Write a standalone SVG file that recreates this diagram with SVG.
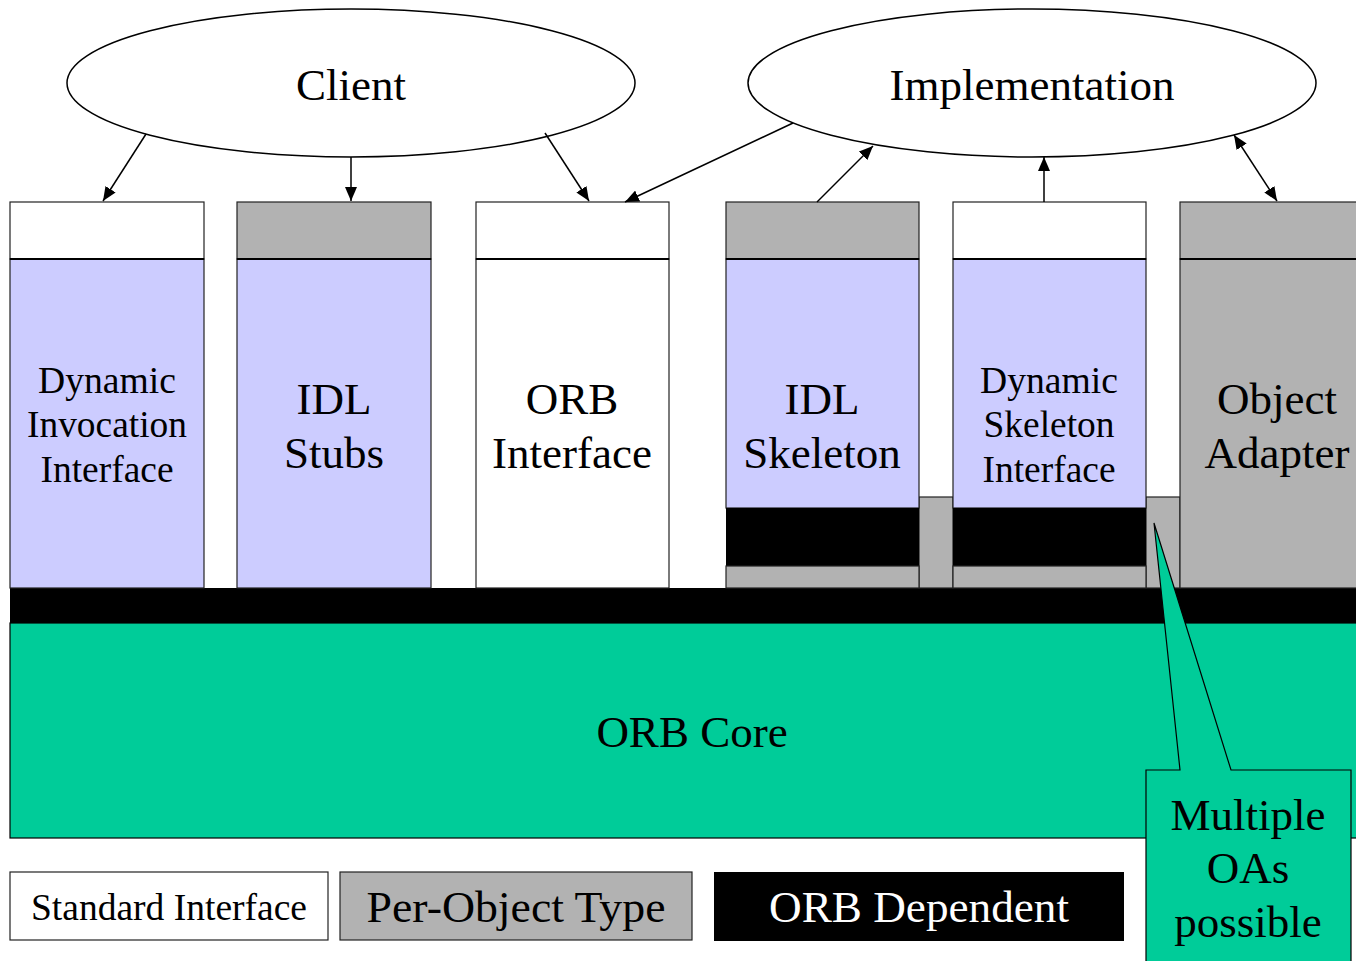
<svg xmlns="http://www.w3.org/2000/svg" width="1356" height="961" viewBox="0 0 1356 961">
  <style>
    text { font-family: "Liberation Serif", "Times New Roman", serif; text-anchor: middle; fill: #000; }
    .big { font-size: 45px; }
    .mid { font-size: 37px; }
    .box { stroke: #222; stroke-width: 1.2; }
    .white { fill: #fff; }
    .gray { fill: #b2b2b2; }
    .lav { fill: #ccccff; }
    .blk { fill: #000; }
    .sep { stroke: #000; stroke-width: 2; }
    .conn { stroke: #000; stroke-width: 1.5; fill: none; }
    .oval { fill: #fff; stroke: #000; stroke-width: 1.5; }
  </style>
  <defs>
    <marker id="arrow" viewBox="0 0 14 12" refX="14" refY="6" markerWidth="14" markerHeight="12" markerUnits="userSpaceOnUse" orient="auto-start-reverse">
      <path d="M0,0 L14,6 L0,12 z" fill="#000"/>
    </marker>
  </defs>

  <rect width="1356" height="961" fill="#fff"/>

  <!-- ORB core and the ORB-dependent bar under the columns -->
  <g id="orb-core">
    <rect x="10" y="623" width="1360" height="215" fill="#00cc99" stroke="#000" stroke-width="1.2"/>
    <text class="big" x="692" y="747">ORB Core</text>
  </g>
  <g id="orb-bar">
    <rect x="10" y="588" width="1360" height="35" class="blk"/>
  </g>

  <!-- gray fillers between the skeleton columns and the adapter -->
  <g id="oa-fillers">
    <rect x="919" y="497" width="34" height="91" class="gray box"/>
    <rect x="1146" y="497" width="34" height="91" class="gray box"/>
  </g>

  <g id="dii">
    <rect x="10" y="202" width="194" height="57" class="white box"/>
    <rect x="10" y="259" width="194" height="329" class="lav box"/>
    <line x1="10" y1="259" x2="204" y2="259" class="sep"/>
    <text class="mid" x="107" y="393" textLength="138" lengthAdjust="spacingAndGlyphs">Dynamic</text>
    <text class="mid" x="107" y="437" textLength="160" lengthAdjust="spacingAndGlyphs">Invocation</text>
    <text class="mid" x="107" y="482" textLength="133" lengthAdjust="spacingAndGlyphs">Interface</text>
  </g>

  <g id="idl-stubs">
    <rect x="237" y="202" width="194" height="57" class="gray box"/>
    <rect x="237" y="259" width="194" height="329" class="lav box"/>
    <line x1="237" y1="259" x2="431" y2="259" class="sep"/>
    <text class="big" x="334" y="414">IDL</text>
    <text class="big" x="334" y="468">Stubs</text>
  </g>

  <g id="orb-interface">
    <rect x="476" y="202" width="193" height="57" class="white box"/>
    <rect x="476" y="259" width="193" height="329" class="white box"/>
    <line x1="476" y1="259" x2="669" y2="259" class="sep"/>
    <text class="big" x="572" y="414">ORB</text>
    <text class="big" x="572" y="468">Interface</text>
  </g>

  <g id="idl-skeleton">
    <rect x="726" y="202" width="193" height="57" class="gray box"/>
    <rect x="726" y="259" width="193" height="249" class="lav box"/>
    <rect x="726" y="508" width="193" height="58" class="blk"/>
    <rect x="726" y="566" width="193" height="22" class="gray box"/>
    <line x1="726" y1="259" x2="919" y2="259" class="sep"/>
    <text class="big" x="822" y="414">IDL</text>
    <text class="big" x="822" y="468">Skeleton</text>
  </g>

  <g id="dsi">
    <rect x="953" y="202" width="193" height="57" class="white box"/>
    <rect x="953" y="259" width="193" height="249" class="lav box"/>
    <rect x="953" y="508" width="193" height="58" class="blk"/>
    <rect x="953" y="566" width="193" height="22" class="gray box"/>
    <line x1="953" y1="259" x2="1146" y2="259" class="sep"/>
    <text class="mid" x="1049" y="393" textLength="138" lengthAdjust="spacingAndGlyphs">Dynamic</text>
    <text class="mid" x="1049" y="437" textLength="131" lengthAdjust="spacingAndGlyphs">Skeleton</text>
    <text class="mid" x="1049" y="482" textLength="133" lengthAdjust="spacingAndGlyphs">Interface</text>
  </g>

  <g id="object-adapter">
    <rect x="1180" y="202" width="194" height="57" class="gray box"/>
    <rect x="1180" y="259" width="194" height="329" class="gray box"/>
    <line x1="1180" y1="259" x2="1374" y2="259" class="sep"/>
    <text class="big" x="1277" y="414">Object</text>
    <text class="big" x="1277" y="468">Adapter</text>
  </g>

  <g id="client">
    <ellipse cx="351" cy="83" rx="284" ry="74" class="oval"/>
    <text class="big" x="351" y="100">Client</text>
  </g>

  <g id="implementation">
    <ellipse cx="1032" cy="83" rx="284" ry="74" class="oval"/>
    <text class="big" x="1032" y="100">Implementation</text>
  </g>

  <g id="connectors">
    <line x1="146" y1="134" x2="103" y2="201" class="conn" marker-end="url(#arrow)"/>
    <line x1="351" y1="157" x2="351" y2="201" class="conn" marker-end="url(#arrow)"/>
    <line x1="545" y1="133" x2="589" y2="201" class="conn" marker-end="url(#arrow)"/>
    <line x1="793" y1="123" x2="625" y2="202" class="conn" marker-end="url(#arrow)"/>
    <line x1="817" y1="202" x2="873" y2="146" class="conn" marker-end="url(#arrow)"/>
    <line x1="1044" y1="202" x2="1044" y2="157" class="conn" marker-end="url(#arrow)"/>
    <line x1="1234" y1="135" x2="1277" y2="201" class="conn" marker-start="url(#arrow)" marker-end="url(#arrow)"/>
  </g>

  <g id="callout">
    <path d="M1146,965 L1146,770 L1180,770 L1154,523 L1231,770 L1351,770 L1351,965" fill="#00cc99" stroke="#000" stroke-width="1.2"/>
    <text class="big" x="1248" y="830">Multiple</text>
    <text class="big" x="1248" y="883">OAs</text>
    <text class="big" x="1248" y="937">possible</text>
  </g>

  <g id="legend-standard">
    <rect x="10" y="872" width="318" height="68" fill="#fff" stroke="#222" stroke-width="1.2"/>
    <text x="169" y="920" font-size="37" textLength="276" lengthAdjust="spacingAndGlyphs">Standard Interface</text>
  </g>
  <g id="legend-per-object">
    <rect x="340" y="872" width="352" height="68" class="gray box"/>
    <text class="big" x="516" y="922" textLength="299" lengthAdjust="spacingAndGlyphs">Per-Object Type</text>
  </g>
  <g id="legend-orb-dependent">
    <rect x="714" y="872" width="410" height="69" fill="#000"/>
    <text class="big" x="919" y="922" style="fill:#fff" textLength="300" lengthAdjust="spacingAndGlyphs">ORB Dependent</text>
  </g>
</svg>
